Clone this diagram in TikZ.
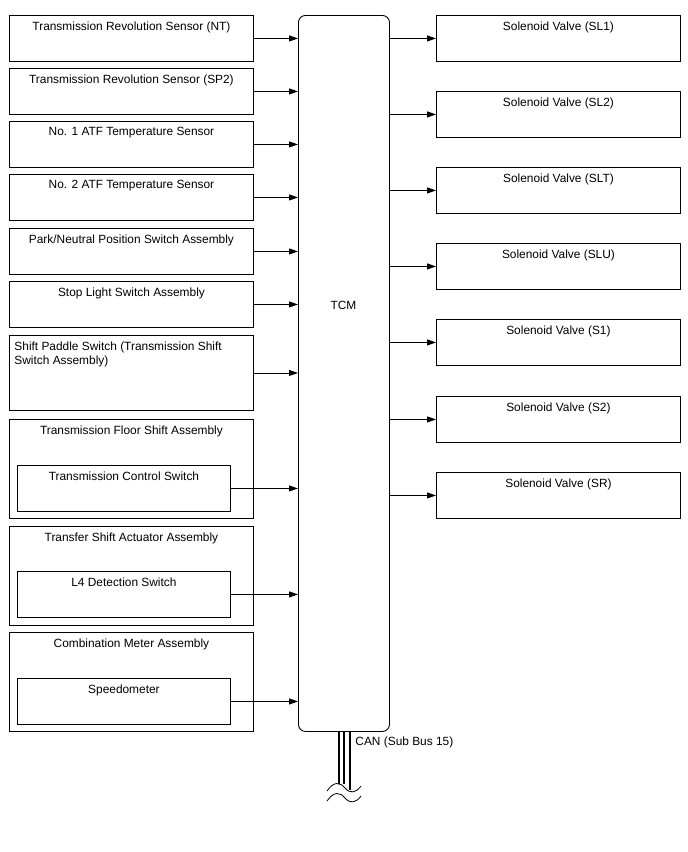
\documentclass[tikz,border=0pt]{standalone}
\usepackage{fontspec}
\setmainfont{Liberation Sans}
\usetikzlibrary{arrows.meta,positioning}
\tikzset{
  tcmpicture/.style={x=1pt, y=-1pt, line width=0.9pt, font=\fontsize{11.9}{14}\selectfont},
  tcmbox/.style={draw, anchor=north west, inner sep=0pt, minimum width=244pt, minimum height=46pt},
  tcmtall/.style={tcmbox, minimum height=75pt},
  tcmgroup/.style={tcmbox, minimum height=99pt},
  tcminner/.style={tcmbox, minimum width=213pt},
  tcmtext/.style={anchor=north, inner sep=0pt, yshift=-6pt},
  tcmleft/.style={anchor=north west, inner sep=0pt, yshift=-6pt, xshift=5pt, align=left},
  tcmarrow/.style={-{Triangle[length=9pt,width=6pt]}},
  canline/.style={line width=1.4pt}
}
\begin{document}
\begin{tikzpicture}[tcmpicture]
\useasboundingbox (0,0) rectangle (688,852);
% control module
\node[draw, rounded corners=7pt, anchor=north west, minimum width=91pt, minimum height=716pt] (tcm) at (298,15) {};
\node (tcmtitle) at (343.5,305) {TCM};
% inputs
\node[tcmbox, label={[tcmtext]north:Transmission Revolution Sensor (NT)}] (nt) at (9,15) {};
\node[tcmbox, label={[tcmtext]north:Transmission Revolution Sensor (SP2)}] (sp2) at (9,68) {};
\node[tcmbox, label={[tcmtext]north:No. 1 ATF Temperature Sensor}] (atf1) at (9,121) {};
\node[tcmbox, label={[tcmtext]north:No. 2 ATF Temperature Sensor}] (atf2) at (9,174) {};
\node[tcmbox, label={[tcmtext]north:Park/Neutral Position Switch Assembly}] (pnp) at (9,228) {};
\node[tcmbox, label={[tcmtext]north:Stop Light Switch Assembly}] (stop) at (9,281) {};
\node[tcmtall, label={[tcmleft]north west:Shift Paddle Switch (Transmission Shift\\Switch Assembly)}] (paddle) at (9,335) {};
\node[tcmgroup, label={[tcmtext]north:Transmission Floor Shift Assembly}] (floor) at (9,419) {};
\node[tcminner, label={[tcmtext]north:Transmission Control Switch}] (ctrlsw) at (17,465) {};
\node[tcmgroup, label={[tcmtext]north:Transfer Shift Actuator Assembly}] (transfer) at (9,526) {};
\node[tcminner, label={[tcmtext]north:L4 Detection Switch}] (l4sw) at (17,571) {};
\node[tcmgroup, label={[tcmtext]north:Combination Meter Assembly}] (meter) at (9,632) {};
\node[tcminner, label={[tcmtext]north:Speedometer}] (speedo) at (17,678) {};
% outputs
\node[tcmbox, label={[tcmtext]north:Solenoid Valve (SL1)}] (sl1) at (436,15) {};
\node[tcmbox, label={[tcmtext]north:Solenoid Valve (SL2)}] (sl2) at (436,91) {};
\node[tcmbox, label={[tcmtext]north:Solenoid Valve (SLT)}] (slt) at (436,167) {};
\node[tcmbox, label={[tcmtext]north:Solenoid Valve (SLU)}] (slu) at (436,243) {};
\node[tcmbox, label={[tcmtext]north:Solenoid Valve (S1)}] (s1) at (436,319) {};
\node[tcmbox, label={[tcmtext]north:Solenoid Valve (S2)}] (s2) at (436,396) {};
\node[tcmbox, label={[tcmtext]north:Solenoid Valve (SR)}] (sr) at (436,472) {};
% connectors
\foreach \src in {nt,sp2,atf1,atf2,pnp,stop,paddle,ctrlsw,l4sw,speedo}
  \draw[tcmarrow] (\src.east) -- (\src.east -| tcm.west);
\foreach \dst in {sl1,sl2,slt,slu,s1,s2,sr}
  \draw[tcmarrow] (tcm.east |- \dst.west) -- (\dst.west);
% CAN bus
\coordinate (cana) at (339,731);
\coordinate (canb) at (344,731);
\coordinate (canc) at (350,731);
\draw[canline] (cana) -- ++(0,53);
\draw[canline] (canb) -- ++(0,53);
\draw[canline] (canc) -- ++(0,59);
\draw[line width=0.8pt] (327,791) .. controls (334,781) and (340,782) .. (345,788) .. controls (350,794) and (356,793) .. (361,786);
\draw[line width=0.8pt] (327,801) .. controls (334,791) and (340,792) .. (345,798) .. controls (350,804) and (356,803) .. (361,796);
\node[anchor=west, inner sep=0pt] (canlabel) at (355,742) {CAN (Sub Bus 15)};
\end{tikzpicture}
\end{document}
